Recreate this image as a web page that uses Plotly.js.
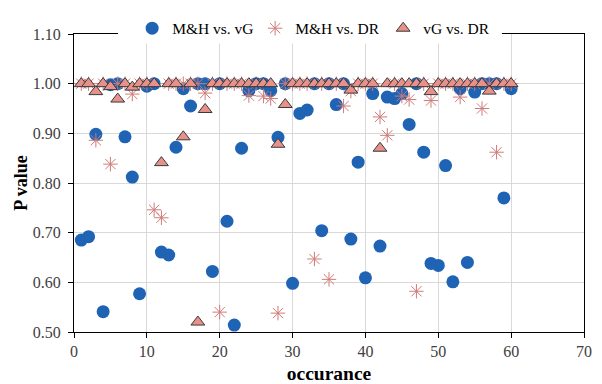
<!DOCTYPE html>
<html><head><meta charset="utf-8">
<script src="https://cdn.plot.ly/plotly-3.0.1.min.js"></script>
<style>html,body{margin:0;padding:0;background:#fff}#chart{width:602px;height:384px}</style>
</head><body><div id="chart"></div>
<script>
const occurrence = [1,2,3,4,5,6,7,8,9,10,11,12,13,14,15,16,17,18,19,20,21,22,23,24,25,26,27,28,29,30,31,32,33,34,35,36,37,38,39,40,41,42,43,44,45,46,47,48,49,50,51,52,53,54,55,56,57,58,59,60];
const mhVsVg = [0.685,0.692,0.898,0.541,0.998,1.000,0.893,0.812,0.577,0.995,
  1.000,0.661,0.655,0.872,0.990,0.955,1.000,1.000,0.622,1.000,
  0.723,0.514,0.870,0.986,1.000,1.000,0.986,0.892,1.000,0.598,
  0.940,0.947,1.000,0.704,1.000,0.958,1.000,0.687,0.842,0.609,
  0.980,0.673,0.973,0.970,0.980,0.918,1.000,0.862,0.638,0.634,
  0.835,0.601,0.990,0.640,0.983,1.000,1.000,1.000,0.770,0.990];
const mhVsDr = [1.000,1.000,0.886,1.000,0.838,1.000,1.000,0.979,1.000,1.000,
  0.746,0.730,1.000,1.000,1.000,1.000,1.000,0.981,1.000,0.540,
  1.000,1.000,1.000,0.976,1.000,0.975,0.970,0.538,1.000,1.000,
  1.000,1.000,0.647,1.000,0.606,1.000,0.955,0.985,1.000,1.000,
  1.000,0.933,0.896,1.000,0.975,0.968,0.582,1.000,0.966,1.000,
  1.000,1.000,0.973,1.000,1.000,0.950,1.000,0.862,1.000,1.000];
const vgVsDr = [1.000,1.000,0.984,1.000,0.994,0.969,1.000,0.993,1.000,1.000,
  1.000,0.841,1.000,1.000,0.893,1.000,0.520,0.948,1.000,1.000,
  1.000,1.000,1.000,1.000,1.000,1.000,1.000,0.878,0.958,1.000,
  1.000,1.000,1.000,1.000,1.000,1.000,1.000,0.987,1.000,1.000,
  1.000,0.870,1.000,1.000,1.000,1.000,1.000,1.000,0.984,1.000,
  1.000,1.000,1.000,1.000,1.000,1.000,0.985,1.000,1.000,1.000];
const seriesNames = ['M&H vs. vG','M&H vs. DR','vG vs. DR'];
const yTickVals = [0.5,0.6,0.7,0.8,0.9,1.0,1.1];
const xTickVals = [0,10,20,30,40,50,60,70];

const serif = '"Liberation Serif", "Times New Roman", serif';
const traces = [
  {x: occurrence, y: mhVsVg, name: seriesNames[0], type: 'scatter', mode: 'markers',
   legendwidth: 78,
   marker: {symbol: 'circle', size: 13, color: '#1F63B5'}},
  {x: occurrence, y: mhVsDr, name: seriesNames[1], type: 'scatter', mode: 'markers',
   legendwidth: 83,
   marker: {symbol: 'asterisk-open', size: 12, color: '#CF7B77', line: {color: '#CF7B77', width: 1}}},
  {x: occurrence, y: vgVsDr, name: seriesNames[2], type: 'scatter', mode: 'markers',
   marker: {symbol: 'triangle-up', size: 12, color: '#E8908A', line: {color: '#3a3a3a', width: 1}}}
];
const layout = {
  width: 602, height: 384,
  margin: {l: 74, r: 18, t: 23, b: 52},
  paper_bgcolor: '#fff', plot_bgcolor: '#fff',
  font: {family: serif, size: 16, color: '#404040'},
  showlegend: true,
  legend: {orientation: 'h', x: 0.114, xanchor: 'left', y: 1.018, yanchor: 'middle',
    bgcolor: 'rgba(255,255,255,0)', font: {family: serif, size: 15.5, color: '#000'}, itemwidth: 30},
  shapes: [{type: 'rect', xref: 'paper', yref: 'paper', x0: 0.0863, x1: 0.839, y0: 0.968, y1: 1.06,
    fillcolor: '#fff', line: {width: 0}, layer: 'above'}],
  xaxis: {range: [0, 70], tickvals: xTickVals, ticktext: xTickVals.map(String),
    showgrid: true, gridcolor: '#D9D9D9', gridwidth: 1, zeroline: false,
    showline: true, linecolor: '#000', linewidth: 1, mirror: true,
    ticks: 'outside', ticklen: 5, tickcolor: '#000',
    tickfont: {family: serif, size: 16, color: '#404040'},
    title: {text: 'occurance', font: {family: serif, size: 19.5, color: '#000', weight: 'bold'}, standoff: 8}},
  yaxis: {range: [0.5, 1.1], tickvals: yTickVals, tickformat: '.2f',
    showgrid: true, gridcolor: '#D9D9D9', gridwidth: 1, zeroline: false,
    showline: true, linecolor: '#000', linewidth: 1, mirror: true,
    ticks: 'outside', ticklen: 5, tickcolor: '#000', ticklabelstandoff: 4,
    tickfont: {family: serif, size: 16, color: '#404040'},
    title: {text: 'P value', font: {family: serif, size: 18, color: '#000', weight: 'bold'}, standoff: 0}}
};
Plotly.newPlot('chart', traces, layout, {displayModeBar: false, staticPlot: true});
</script></body></html>
